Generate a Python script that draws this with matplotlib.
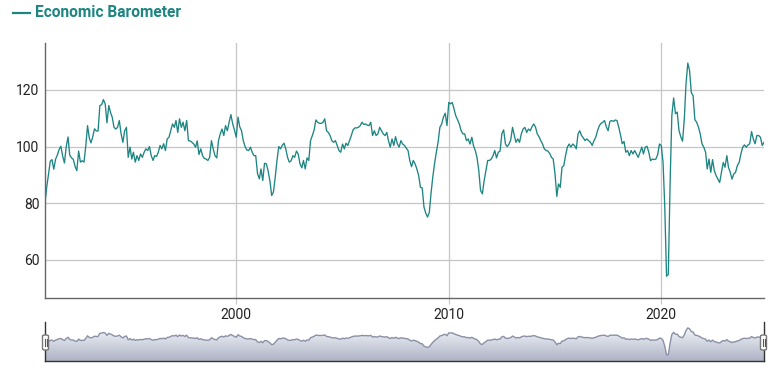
import numpy as np
import pandas as pd
import matplotlib
matplotlib.use("Agg")
import matplotlib.pyplot as plt
import matplotlib.dates as mdates
from matplotlib.patches import FancyBboxPatch, Polygon
from matplotlib.lines import Line2D
from matplotlib.colors import LinearSegmentedColormap

plt.rcParams['font.family'] = ['Roboto', 'DejaVu Sans']

# ---- data (monthly) ----
start_month = "1991-01"
y1991 = [80, 86, 90, 94.8, 95.4, 92, 95.5, 97, 99, 100.1, 96.6, 94.2]
y1992 = [100, 103.4, 97, 96, 95.5, 93, 91.5, 98.4, 94.5, 95, 94.5, 100]
y1993 = [107.4, 103, 101.3, 103.5, 106.3, 105.5, 105.5, 114.5, 114.8, 116.6, 115, 108.4]
y1994 = [114.5, 112, 110.4, 106.8, 106.2, 106.8, 109.2, 104.5, 101.5, 105.6, 106.8, 96.2]
y1995 = [99.8, 95.6, 98, 94.5, 96.8, 95.1, 97.4, 96.2, 98, 99.2, 98.6, 100]
y1996 = [96.8, 95.1, 96.8, 96.5, 98, 100.4, 99.2, 101, 98.6, 102.7, 103.3, 105.6]
y1997 = [108, 106.8, 109.2, 105, 109.8, 106.8, 108.6, 105.6, 109.2, 102.1, 102, 101.5]
y1998 = [100.9, 99.8, 102, 97.2, 99.2, 96.8, 95.8, 95.6, 95.1, 96.2, 102.1, 99.2]
y1999 = [96.8, 96, 102, 104.5, 106.2, 103.9, 107.4, 105.6, 108.6, 111.3, 108, 105.9]
y2000 = [103.3, 110.4, 107, 105.6, 102.1, 100, 98.8, 98.6, 99.8, 98, 96.8, 96.8]
y2001 = [90.4, 88.6, 92.1, 88, 94.1, 93.9, 91.5, 88, 82.7, 83.9, 89.2, 95.1]
y2002 = [100, 99.2, 100.4, 101.2, 99.2, 96.2, 94.5, 95, 96.8, 96.2, 98.4, 97.4]
y2003 = [93.9, 92.5, 95.1, 92.1, 96, 95.1, 102.1, 103.9, 105.9, 109.4, 108.6, 108.2]
y2004 = [108.2, 108.6, 109.8, 105.6, 105, 103.9, 102.1, 101.5, 102.1, 100.4, 98.6, 98]
y2005 = [100.9, 99.2, 101.2, 100.4, 102.1, 103.9, 105.9, 106.6, 106.6, 106.8, 107.4, 108.6]
y2006 = [107.8, 108, 107.6, 107.4, 108.6, 103.9, 105.6, 103.9, 104.5, 106.8, 105.6, 104.5]
y2007 = [103.9, 105, 102.1, 99.8, 102.7, 100.4, 103.5, 101, 99.8, 102.1, 100.9, 100.4]
y2008 = [99.5, 98.6, 95.1, 92.9, 95.1, 93.9, 92.1, 89.8, 85.6, 85.4, 78.6, 76.5]
y2009 = [75.1, 76.8, 83.3, 89.2, 93.9, 98, 101.5, 106.8, 108, 110.4, 111.8, 107.4]
y2010 = [115.6, 115.1, 115.6, 113.3, 110.9, 109.5, 108, 105.6, 104.5, 104.5, 102.1, 102.7]
y2011 = [100.9, 103.3, 100.4, 98.6, 96.2, 91.5, 84.5, 83.3, 88, 91.5, 95.1, 95.1]
y2012 = [95.6, 96.8, 98.6, 96, 98, 98.4, 104.5, 105.9, 100.9, 100, 100.9, 102.4]
y2013 = [106.8, 103.9, 101.5, 102.7, 101.5, 104.5, 106.2, 106.8, 105, 106.2, 105.6, 107]
y2014 = [108, 106.8, 104.5, 103.5, 102.1, 100.9, 99.2, 98.6, 98.4, 97.6, 96.2, 95.6]
y2015 = [90.4, 82.4, 86.8, 85.6, 92.7, 93.3, 96.8, 99.8, 100.9, 99.8, 100.9, 100.4]
y2016 = [99.2, 104.5, 105.6, 103.9, 103.1, 102.1, 102.7, 102.1, 101.5, 100.4, 102.1, 103.3]
y2017 = [105.6, 107.4, 108.2, 108.6, 109.2, 107, 105.6, 108.9, 109.2, 108.9, 109.4, 109.2]
y2018 = [106.8, 104, 101, 101.8, 98, 98.6, 96.8, 98.6, 97.4, 98.6, 97.4, 96.2]
y2019 = [98, 99.8, 97.4, 99.8, 100.1, 98, 95, 95.6, 95.4, 95.6, 97.2, 100.9]
y2020 = [100.4, 94.4, 79, 54.2, 54.8, 87, 111, 117.2, 111.6, 112.2, 105.7, 103.5]
y2021 = [101.9, 110, 122, 129.5, 127, 119, 118, 109.5, 108.6, 106.9, 104.5, 101]
y2022 = [99.8, 98, 92.1, 95.6, 90.9, 95.4, 91.5, 89.7, 88.5, 87.3, 90.9, 94.4]
y2023 = [92.7, 96.8, 92.7, 90.9, 88.5, 90.3, 90.9, 93.3, 94.4, 97.4, 99.8, 100.6]
y2024 = [99.8, 100.6, 101, 105.3, 102.7, 101, 103.9, 103.9, 103.3, 100.4, 101.5]

barometer = (y1991 + y1992 + y1993 + y1994 + y1995 + y1996 + y1997 + y1998 + y1999 +
             y2000 + y2001 + y2002 + y2003 + y2004 + y2005 + y2006 + y2007 + y2008 +
             y2009 + y2010 + y2011 + y2012 + y2013 + y2014 + y2015 + y2016 + y2017 +
             y2018 + y2019 + y2020 + y2021 + y2022 + y2023 + y2024)
dates = pd.date_range(start_month, periods=len(barometer), freq="MS")
yticks = [60, 80, 100, 120]
series_name = "Economic Barometer"

W, H = 780, 379
TEAL = "#1d8582"
fig = plt.figure(figsize=(W / 100, H / 100), dpi=100)

def fx(px):
    return px / W

def fy(py):
    return 1 - py / H

# ---- main chart ----
ax = fig.add_axes([fx(45), fy(298), fx(764 - 45), (298 - 43) / H])
ax.plot(dates, barometer, color=TEAL, lw=0.95)
ax.set_xlim(dates[0], dates[-1])
ax.set_ylim(46.5, 136.6)
ax.set_yticks(yticks)
ax.xaxis.set_major_locator(mdates.YearLocator(10))
ax.xaxis.set_major_formatter(mdates.DateFormatter("%Y"))
ax.grid(True, color="#c6c6c6", lw=0.9)
ax.set_axisbelow(True)
for s in ["top", "right"]:
    ax.spines[s].set_visible(False)
for s in ["left", "bottom"]:
    ax.spines[s].set_color("#666666")
    ax.spines[s].set_linewidth(1.0)
ax.tick_params(axis="y", length=0, pad=4, labelsize=10, labelcolor="#222222")
ax.tick_params(axis="x", length=4, color="#c6c6c6", pad=3, labelsize=10, labelcolor="#222222")

# ---- navigator ----
nav = fig.add_axes([fx(45), fy(361), fx(764 - 45), (361 - 322) / H])
nlo, nhi = 37, 146
nav.set_xlim(dates[0], dates[-1])
nav.set_ylim(nlo, nhi)
xn = mdates.date2num(dates)
verts = np.column_stack([np.r_[xn[0], xn, xn[-1]], np.r_[nlo, barometer, nlo]])
poly = Polygon(verts, closed=True, facecolor="none", edgecolor="none")
nav.add_patch(poly)
cmap = LinearSegmentedColormap.from_list("navgrad", ["#adb3c5", "#f0f2f7"])
img = nav.imshow(np.linspace(0, 1, 200).reshape(-1, 1), extent=[xn[0], xn[-1], nlo, 125],
                 aspect="auto", cmap=cmap, origin="lower", zorder=1)
img.set_clip_path(poly)
nav.set_ylim(nlo, nhi)
nav.plot(dates, barometer, color="#8a91a7", lw=1.0, zorder=2)
nav.set_xticks([])
nav.set_yticks([])
nav.spines["top"].set_visible(False)
for s in ["left", "right", "bottom"]:
    nav.spines[s].set_color("#333333")
    nav.spines[s].set_linewidth(1.0)

# handles
for cx in (45.5, 763.5):
    hb = FancyBboxPatch((fx(cx - 3), fy(350)), fx(6), 15 / H,
                        boxstyle="round,pad=0,rounding_size=0.003",
                        transform=fig.transFigure, facecolor="white",
                        edgecolor="#777777", lw=1.0, zorder=5)
    fig.patches.append(hb)
    for dx in (-1, 1):
        fig.lines.append(Line2D([fx(cx + dx), fx(cx + dx)], [fy(346), fy(339)],
                                transform=fig.transFigure, color="#555555", lw=0.8, zorder=6))

# ---- legend/title ----
fig.lines.append(Line2D([fx(13), fx(30)], [fy(12.5), fy(12.5)], transform=fig.transFigure,
                        color=TEAL, lw=1.6))
fig.text(fx(35), fy(12.5), series_name, color=TEAL, fontsize=11.2, fontweight="bold",
         va="center", ha="left")

fig.savefig("out.png", dpi=100, facecolor="white")
